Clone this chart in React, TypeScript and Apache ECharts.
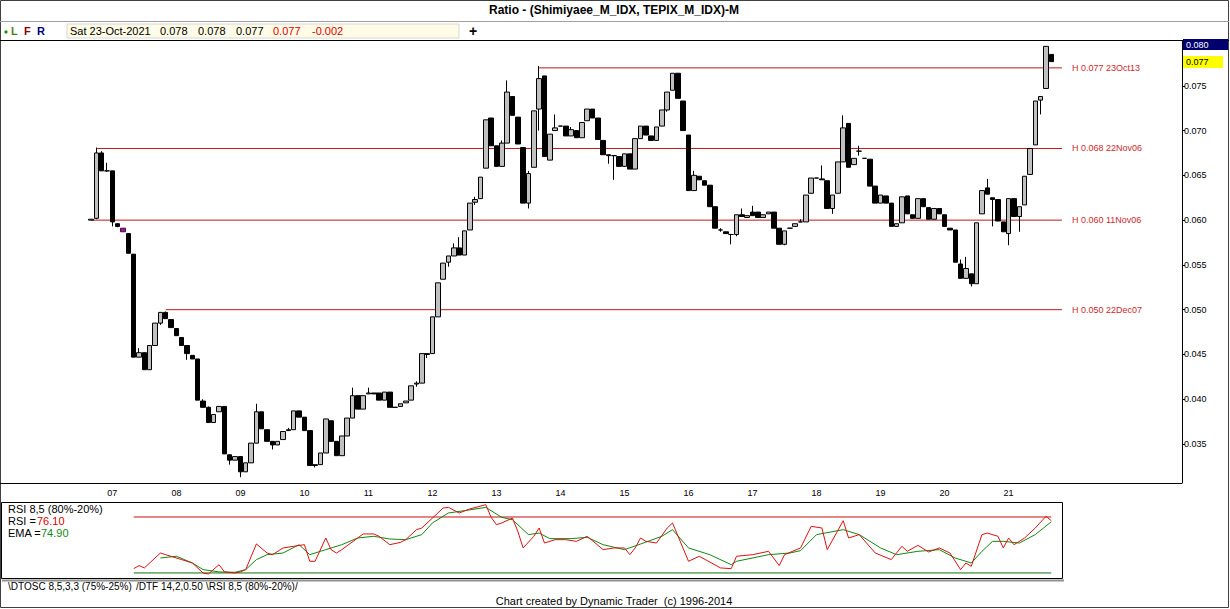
import React, { useEffect, useRef } from "react";
import * as echarts from "echarts";

// ---- price data (monthly candles, ratio) ----
const opens = [
  0.0600, 0.0602, 0.0675, 0.0655, 0.0655, 0.0596, 0.0591, 0.0585, 0.0562, 0.0447,
  0.0452, 0.0433, 0.0460, 0.0485, 0.0497, 0.0489, 0.0479, 0.0469, 0.0460, 0.0449,
  0.0445, 0.0398, 0.0391, 0.0374, 0.0386, 0.0392, 0.0338, 0.0332, 0.0336, 0.0319,
  0.0329, 0.0351, 0.0386, 0.0366, 0.0353, 0.0349, 0.0355, 0.0365, 0.0366, 0.0387,
  0.0380, 0.0365, 0.0326, 0.0327, 0.0340, 0.0376, 0.0353, 0.0337, 0.0359, 0.0379,
  0.0404, 0.0389, 0.0406, 0.0407, 0.0407, 0.0399, 0.0408, 0.0391, 0.0392, 0.0396,
  0.0399, 0.0417, 0.0418, 0.0450, 0.0451, 0.0492, 0.0534, 0.0553, 0.0560, 0.0569,
  0.0561, 0.0589, 0.0620, 0.0624, 0.0658, 0.0714, 0.0683, 0.0660, 0.0686, 0.0738,
  0.0715, 0.0681, 0.0619, 0.0659, 0.0724, 0.0761, 0.0667, 0.0700, 0.0705, 0.0705,
  0.0694, 0.0700, 0.0692, 0.0711, 0.0724, 0.0714, 0.0689, 0.0673, 0.0672, 0.0671,
  0.0660, 0.0674, 0.0657, 0.0691, 0.0705, 0.0694, 0.0689, 0.0705, 0.0723, 0.0745,
  0.0764, 0.0733, 0.0695, 0.0633, 0.0649, 0.0644, 0.0639, 0.0615, 0.0589, 0.0587,
  0.0584, 0.0584, 0.0606, 0.0603, 0.0609, 0.0609, 0.0603, 0.0607, 0.0609, 0.0591,
  0.0573, 0.0591, 0.0593, 0.0598, 0.0598, 0.0630, 0.0647, 0.0646, 0.0644, 0.0613,
  0.0630, 0.0665, 0.0708, 0.0662, 0.0677, 0.0669, 0.0668, 0.0638, 0.0619, 0.0627,
  0.0619, 0.0593, 0.0597, 0.0627, 0.0606, 0.0602, 0.0624, 0.0614, 0.0601, 0.0613,
  0.0606, 0.0591, 0.0589, 0.0551, 0.0535, 0.0540, 0.0529, 0.0607, 0.0636, 0.0625,
  0.0623, 0.0598, 0.0585, 0.0624, 0.0604, 0.0617, 0.0651, 0.0684, 0.0734, 0.0747,
  0.0785,
];
const closes = [
  0.0601, 0.0675, 0.0655, 0.0655, 0.0598, 0.0593, 0.0587, 0.0563, 0.0447, 0.0452,
  0.0433, 0.0460, 0.0485, 0.0497, 0.0490, 0.0480, 0.0471, 0.0460, 0.0451, 0.0445,
  0.0399, 0.0391, 0.0374, 0.0383, 0.0392, 0.0339, 0.0332, 0.0336, 0.0319, 0.0329,
  0.0351, 0.0386, 0.0367, 0.0353, 0.0349, 0.0353, 0.0364, 0.0366, 0.0387, 0.0380,
  0.0365, 0.0326, 0.0327, 0.0340, 0.0378, 0.0353, 0.0337, 0.0359, 0.0379, 0.0404,
  0.0389, 0.0404, 0.0407, 0.0406, 0.0399, 0.0408, 0.0391, 0.0391, 0.0395, 0.0398,
  0.0415, 0.0418, 0.0451, 0.0451, 0.0492, 0.0530, 0.0552, 0.0560, 0.0569, 0.0561,
  0.0588, 0.0619, 0.0623, 0.0648, 0.0712, 0.0683, 0.0660, 0.0686, 0.0743, 0.0717,
  0.0685, 0.0619, 0.0652, 0.0722, 0.0758, 0.0671, 0.0696, 0.0703, 0.0705, 0.0694,
  0.0701, 0.0692, 0.0709, 0.0724, 0.0714, 0.0690, 0.0673, 0.0672, 0.0672, 0.0660,
  0.0674, 0.0657, 0.0691, 0.0705, 0.0695, 0.0689, 0.0704, 0.0723, 0.0743, 0.0764,
  0.0736, 0.0700, 0.0633, 0.0650, 0.0645, 0.0639, 0.0615, 0.0591, 0.0589, 0.0585,
  0.0584, 0.0606, 0.0604, 0.0605, 0.0605, 0.0603, 0.0606, 0.0609, 0.0591, 0.0573,
  0.0588, 0.0591, 0.0596, 0.0598, 0.0628, 0.0647, 0.0647, 0.0645, 0.0613, 0.0628,
  0.0665, 0.0703, 0.0659, 0.0669, 0.0677, 0.0669, 0.0638, 0.0619, 0.0628, 0.0619,
  0.0593, 0.0596, 0.0626, 0.0607, 0.0602, 0.0624, 0.0615, 0.0601, 0.0613, 0.0607,
  0.0593, 0.0589, 0.0553, 0.0535, 0.0546, 0.0529, 0.0597, 0.0633, 0.0629, 0.0623,
  0.0599, 0.0587, 0.0624, 0.0604, 0.0615, 0.0649, 0.0680, 0.0733, 0.0738, 0.0794,
  0.0777,
];
const highs = [
  0.0601, 0.0681, 0.0677, 0.0664, 0.0655, 0.0596, 0.0591, 0.0585, 0.0562, 0.0457,
  0.0452, 0.0460, 0.0485, 0.0497, 0.0498, 0.0489, 0.0479, 0.0469, 0.0460, 0.0449,
  0.0445, 0.0400, 0.0392, 0.0383, 0.0392, 0.0392, 0.0338, 0.0336, 0.0336, 0.0329,
  0.0351, 0.0395, 0.0386, 0.0366, 0.0353, 0.0353, 0.0364, 0.0368, 0.0387, 0.0387,
  0.0380, 0.0365, 0.0327, 0.0340, 0.0378, 0.0376, 0.0353, 0.0359, 0.0379, 0.0413,
  0.0404, 0.0404, 0.0413, 0.0407, 0.0407, 0.0408, 0.0408, 0.0391, 0.0395, 0.0398,
  0.0415, 0.0420, 0.0451, 0.0451, 0.0492, 0.0530, 0.0552, 0.0560, 0.0574, 0.0581,
  0.0588, 0.0619, 0.0626, 0.0648, 0.0712, 0.0714, 0.0683, 0.0689, 0.0756, 0.0738,
  0.0715, 0.0681, 0.0655, 0.0722, 0.0772, 0.0761, 0.0696, 0.0718, 0.0705, 0.0705,
  0.0704, 0.0700, 0.0709, 0.0724, 0.0724, 0.0714, 0.0689, 0.0673, 0.0672, 0.0671,
  0.0674, 0.0674, 0.0691, 0.0705, 0.0705, 0.0694, 0.0704, 0.0723, 0.0743, 0.0764,
  0.0764, 0.0733, 0.0695, 0.0655, 0.0649, 0.0644, 0.0639, 0.0615, 0.0591, 0.0587,
  0.0584, 0.0606, 0.0613, 0.0605, 0.0616, 0.0609, 0.0606, 0.0609, 0.0609, 0.0591,
  0.0588, 0.0591, 0.0596, 0.0601, 0.0628, 0.0647, 0.0647, 0.0661, 0.0644, 0.0628,
  0.0665, 0.0717, 0.0708, 0.0669, 0.0683, 0.0669, 0.0668, 0.0638, 0.0628, 0.0627,
  0.0619, 0.0596, 0.0626, 0.0627, 0.0606, 0.0624, 0.0624, 0.0614, 0.0613, 0.0613,
  0.0606, 0.0591, 0.0589, 0.0556, 0.0559, 0.0540, 0.0597, 0.0633, 0.0646, 0.0625,
  0.0623, 0.0598, 0.0624, 0.0624, 0.0615, 0.0649, 0.0680, 0.0733, 0.0738, 0.0794,
  0.0785,
];
const lows = [
  0.0600, 0.0601, 0.0655, 0.0654, 0.0593, 0.0592, 0.0587, 0.0563, 0.0447, 0.0447,
  0.0433, 0.0433, 0.0460, 0.0483, 0.0490, 0.0480, 0.0471, 0.0460, 0.0444, 0.0445,
  0.0399, 0.0391, 0.0374, 0.0374, 0.0386, 0.0339, 0.0327, 0.0332, 0.0313, 0.0319,
  0.0329, 0.0351, 0.0367, 0.0353, 0.0344, 0.0349, 0.0355, 0.0365, 0.0366, 0.0380,
  0.0365, 0.0326, 0.0324, 0.0327, 0.0340, 0.0353, 0.0337, 0.0337, 0.0359, 0.0379,
  0.0389, 0.0389, 0.0406, 0.0406, 0.0399, 0.0399, 0.0391, 0.0391, 0.0392, 0.0396,
  0.0399, 0.0414, 0.0418, 0.0446, 0.0451, 0.0492, 0.0534, 0.0548, 0.0560, 0.0561,
  0.0561, 0.0589, 0.0617, 0.0624, 0.0658, 0.0683, 0.0660, 0.0660, 0.0686, 0.0717,
  0.0685, 0.0619, 0.0613, 0.0659, 0.0700, 0.0671, 0.0667, 0.0700, 0.0705, 0.0694,
  0.0694, 0.0692, 0.0692, 0.0711, 0.0714, 0.0690, 0.0673, 0.0663, 0.0645, 0.0660,
  0.0660, 0.0657, 0.0657, 0.0691, 0.0695, 0.0689, 0.0689, 0.0705, 0.0721, 0.0745,
  0.0736, 0.0700, 0.0633, 0.0633, 0.0645, 0.0639, 0.0615, 0.0591, 0.0587, 0.0585,
  0.0573, 0.0582, 0.0604, 0.0603, 0.0605, 0.0603, 0.0603, 0.0607, 0.0591, 0.0573,
  0.0572, 0.0591, 0.0593, 0.0598, 0.0598, 0.0630, 0.0647, 0.0645, 0.0613, 0.0607,
  0.0630, 0.0665, 0.0659, 0.0662, 0.0672, 0.0669, 0.0638, 0.0619, 0.0619, 0.0619,
  0.0593, 0.0593, 0.0597, 0.0607, 0.0602, 0.0602, 0.0615, 0.0601, 0.0601, 0.0607,
  0.0593, 0.0589, 0.0553, 0.0535, 0.0535, 0.0526, 0.0529, 0.0607, 0.0629, 0.0593,
  0.0599, 0.0587, 0.0572, 0.0604, 0.0587, 0.0617, 0.0651, 0.0684, 0.0718, 0.0747,
  0.0777,
];
const specialCandle = 6; // purple bar

// ---- horizontal "H" levels: [value, start bar, label] ----
const hLevels = [0.077, 0.068, 0.060, 0.050];
const hStarts = [84, 1, 0, 14];
const hLabels = ["H 0.077 23Oct13", "H 0.068 22Nov06", "H 0.060 11Nov06", "H 0.050 22Dec07"];

// ---- x axis year labels ----
const yearLabels = ["07", "08", "09", "10", "11", "12", "13", "14", "15", "16", "17", "18", "19", "20", "21"];
const firstYearBar = 4;

// ---- y axis ticks ----
const priceTicks = [0.035, 0.04, 0.045, 0.05, 0.055, 0.06, 0.065, 0.07, 0.075];

// ---- RSI 8,5 panel: [bar, value] ----
const rsiPoints = [
  [8, 24.6], [9, 27.9], [10, 25.4], [13, 41.4], [14, 39.6], [17, 34.3], [19, 30.7], [21, 20], [22, 18.9],
  [24, 28.9], [25, 21.1], [27, 20], [28, 21.1], [29, 23.6], [31, 51.1], [33, 41.4], [34, 39.6], [36, 46.8],
  [38, 48.6], [40, 50.3], [41, 32.5], [42, 32.5], [44, 57.5], [45, 45], [46, 41.4], [47, 45], [50, 57.5],
  [51, 61.8], [53, 61.8], [54, 59.3], [56, 50.3], [58, 52.8], [59, 55.7], [61, 66.4], [62, 68.2], [64, 78.9],
  [66, 89.6], [67, 90.3], [69, 84.3], [71, 88.6], [74, 93.2], [75, 79.6], [76, 71.8], [77, 73.6], [79, 78.9],
  [80, 64.6], [81, 46.8], [83, 59.3], [84, 68.2], [85, 52.1], [87, 55.7], [89, 55.7], [91, 53.9], [93, 59.3],
  [96, 45], [98, 46.8], [100, 46.8], [101, 39.6], [102, 46.8], [103, 57.5], [104, 53.9], [106, 52.1],
  [108, 68.2], [109, 73.6], [112, 32.5], [114, 37.9], [118, 25.4], [120, 24.6], [121, 37.9], [124, 39.6],
  [127, 43.2], [129, 27.9], [130, 39.6], [133, 46.8], [135, 70], [137, 68.2], [138, 45], [141, 76],
  [142, 57.5], [144, 61.1], [147, 41.4], [150, 34.3], [152, 48.6], [153, 43.2], [155, 49.6], [157, 42.5],
  [159, 46.8], [161, 41.4], [163, 23.6], [164, 30.7], [165, 27.1], [167, 61.1], [168, 62.8], [170, 59.3],
  [171, 46.8], [172, 57.5], [173, 50.3], [175, 57.5], [177, 68.2], [179, 80.7], [180, 76.1],
];
const emaPoints = [
  [13, 36], [16, 37.9], [19, 30.7], [21, 23.6], [24, 21.1], [27, 20.7], [29, 23.6], [31, 34.3], [33, 39.6],
  [36, 41.4], [39, 50.3], [41, 39.6], [44, 45], [47, 50.3], [50, 57.5], [53, 59.3], [56, 56.4], [59, 55.7],
  [62, 61.1], [64, 73.6], [67, 84.3], [70, 86.8], [74, 90.3], [77, 79.6], [79, 77.1], [82, 61.1], [84, 62.8],
  [86, 56.8], [90, 56.8], [93, 58.2], [96, 50.3], [100, 45], [103, 51], [107, 59.3], [109, 66.4],
  [112, 46.8], [116, 39.6], [120, 28.9], [121, 32.5], [127, 39.6], [131, 41.4], [133, 43.9], [136, 61.1],
  [141, 66.4], [144, 61.1], [148, 46.8], [151, 39.6], [155, 43.2], [159, 45], [162, 36], [165, 30.7],
  [167, 43.2], [169, 53.9], [171, 53.9], [174, 52.1], [177, 61.1], [180, 74.9],
];
const rsiUpper = 80;
const rsiLower = 20;
const rsiFirstBar = 8;

const PAD_LEFT = 16;
const PAD_RIGHT = 24;
const FONT = "Liberation Sans, Arial, sans-serif";

export default function App() {
  const ref = useRef<HTMLDivElement>(null);

  useEffect(() => {
    document.body.style.margin = "0";
    if (!ref.current) return;
    const chart = echarts.init(ref.current, undefined, { renderer: "svg" });
    const n = closes.length;
    const total = PAD_LEFT + n + PAD_RIGHT;
    const cats: string[] = [];
    for (let k = 0; k < total; k++) cats.push("b" + (k - PAD_LEFT));

    const candleData: any[] = [];
    for (let k = 0; k < total; k++) {
      const i = k - PAD_LEFT;
      if (i < 0 || i >= n) {
        candleData.push("-");
        continue;
      }
      const item: any = { value: [opens[i], closes[i], lows[i], highs[i]] };
      if (i === specialCandle) {
        item.itemStyle = { color: "#8e1f8e", color0: "#8e1f8e", borderColor: "#4a0a4a", borderColor0: "#4a0a4a" };
      }
      candleData.push(item);
    }

    const endBar = PAD_LEFT + 182;
    const hSeries = hLevels.map((v, j) => ({
      type: "line",
      xAxisIndex: 0,
      yAxisIndex: 0,
      data: [[PAD_LEFT + hStarts[j], v], [endBar, v]],
      symbol: "none",
      silent: true,
      lineStyle: { color: "#c01818", width: 1 },
      endLabel: {
        show: true,
        formatter: hLabels[j],
        color: "#d02828",
        fontSize: 9,
        fontFamily: FONT,
        distance: 10,
      },
      z: 1,
    }));

    const shift = (pts: number[][]) => pts.map((p) => [PAD_LEFT + p[0], p[1]]);

    const option: any = {
      animation: false,
      backgroundColor: "#ffffff",
      grid: [
        { left: 3, right: 48, top: 41, height: 442, show: false },
        { left: 3, right: 48, top: 503, height: 75, show: false },
      ],
      xAxis: [
        {
          type: "category",
          gridIndex: 0,
          data: cats,
          boundaryGap: true,
          axisLine: { show: false },
          axisTick: { show: false },
          splitLine: { show: false },
          axisLabel: {
            show: true,
            interval: 0,
            margin: 5,
            fontSize: 9,
            fontFamily: FONT,
            color: "#000",
            formatter: (_v: string, idx: number) => {
              const i = idx - PAD_LEFT - firstYearBar;
              if (i >= 0 && i % 12 === 0 && i / 12 < yearLabels.length) return yearLabels[i / 12];
              return "";
            },
          },
        },
        {
          type: "category",
          gridIndex: 1,
          data: cats,
          boundaryGap: true,
          show: false,
        },
      ],
      yAxis: [
        {
          type: "value",
          gridIndex: 0,
          position: "right",
          min: 0.03065,
          max: 0.08,
          scale: true,
          axisLine: { show: true, lineStyle: { color: "#000", width: 1 } },
          axisTick: { show: true, length: 3, lineStyle: { color: "#000" }, customValues: priceTicks },
          splitLine: { show: false },
          axisLabel: {
            show: true,
            customValues: priceTicks,
            formatter: (v: number) => v.toFixed(3),
            fontSize: 9,
            fontFamily: FONT,
            color: "#000",
            margin: 2,
          },
        },
        {
          type: "value",
          gridIndex: 1,
          min: 14.6,
          max: 95,
          show: false,
          splitLine: { show: false },
        },
      ],
      series: [
        ...hSeries,
        {
          type: "candlestick",
          xAxisIndex: 0,
          yAxisIndex: 0,
          data: candleData,
          barWidth: 5,
          silent: true,
          z: 3,
          itemStyle: {
            color: "#c0c0c0",
            color0: "#000000",
            borderColor: "#000000",
            borderColor0: "#000000",
            borderWidth: 1,
          },
        },
        {
          type: "line",
          xAxisIndex: 1,
          yAxisIndex: 1,
          data: [[PAD_LEFT + rsiFirstBar, rsiUpper], [PAD_LEFT + n - 1, rsiUpper]],
          symbol: "none",
          silent: true,
          lineStyle: { color: "#c81010", width: 1 },
        },
        {
          type: "line",
          xAxisIndex: 1,
          yAxisIndex: 1,
          data: [[PAD_LEFT + rsiFirstBar, rsiLower], [PAD_LEFT + n - 1, rsiLower]],
          symbol: "none",
          silent: true,
          lineStyle: { color: "#107010", width: 1 },
        },
        {
          type: "line",
          xAxisIndex: 1,
          yAxisIndex: 1,
          data: shift(emaPoints),
          symbol: "none",
          silent: true,
          lineStyle: { color: "#118811", width: 1 },
        },
        {
          type: "line",
          xAxisIndex: 1,
          yAxisIndex: 1,
          data: shift(rsiPoints),
          symbol: "none",
          silent: true,
          lineStyle: { color: "#dd1111", width: 1 },
        },
      ],
      graphic: [
        // outer frame
        { type: "rect", shape: { x: 0.5, y: 0.5, width: 1228, height: 607 }, style: { fill: "none", stroke: "#404040", lineWidth: 1 }, silent: true },
        { type: "line", shape: { x1: 0, y1: 21.5, x2: 1229, y2: 21.5 }, style: { stroke: "#a0a0a0", lineWidth: 1 }, silent: true },
        { type: "line", shape: { x1: 0, y1: 40.5, x2: 1229, y2: 40.5 }, style: { stroke: "#000", lineWidth: 1 }, silent: true },
        { type: "line", shape: { x1: 0, y1: 483.5, x2: 1182, y2: 483.5 }, style: { stroke: "#000", lineWidth: 1 }, silent: true },
        // RSI panel box
        { type: "rect", shape: { x: 1.5, y: 502.5, width: 1061, height: 76 }, style: { fill: "none", stroke: "#000", lineWidth: 1 }, silent: true },
        { type: "line", shape: { x1: 2, y1: 580.5, x2: 1064, y2: 580.5 }, style: { stroke: "#909090", lineWidth: 2 }, silent: true },
        // title
        {
          type: "text", x: 614, y: 10,
          style: { text: "Ratio - (Shimiyaee_M_IDX, TEPIX_M_IDX)-M", fill: "#000", font: `bold 12px ${FONT}`, textAlign: "center", textVerticalAlign: "middle" },
        },
        // toolbar
        { type: "circle", shape: { cx: 6, cy: 32, r: 1.6 }, style: { fill: "#109010" }, silent: true },
        { type: "text", x: 11, y: 31, style: { text: "L", fill: "#5a7d10", font: `bold 11px ${FONT}`, textVerticalAlign: "middle" } },
        { type: "text", x: 24, y: 31, style: { text: "F", fill: "#8b0000", font: `bold 11px ${FONT}`, textVerticalAlign: "middle" } },
        { type: "text", x: 37, y: 31, style: { text: "R", fill: "#000080", font: `bold 11px ${FONT}`, textVerticalAlign: "middle" } },
        { type: "rect", shape: { x: 67, y: 24, width: 392, height: 14 }, style: { fill: "#fffbe6", stroke: "#d8d8d8", lineWidth: 1 }, silent: true },
        { type: "text", x: 70, y: 31, style: { text: "Sat 23-Oct-2021", fill: "#000", font: `11px ${FONT}`, textVerticalAlign: "middle" } },
        { type: "text", x: 160, y: 31, style: { text: "0.078", fill: "#000", font: `11px ${FONT}`, textVerticalAlign: "middle" } },
        { type: "text", x: 198, y: 31, style: { text: "0.078", fill: "#000", font: `11px ${FONT}`, textVerticalAlign: "middle" } },
        { type: "text", x: 236, y: 31, style: { text: "0.077", fill: "#000", font: `11px ${FONT}`, textVerticalAlign: "middle" } },
        { type: "text", x: 273, y: 31, style: { text: "0.077", fill: "#dd0000", font: `11px ${FONT}`, textVerticalAlign: "middle" } },
        { type: "text", x: 312, y: 31, style: { text: "-0.002", fill: "#dd0000", font: `11px ${FONT}`, textVerticalAlign: "middle" } },
        { type: "text", x: 469, y: 31, style: { text: "+", fill: "#000", font: `bold 14px ${FONT}`, textVerticalAlign: "middle" } },
        // right-side price boxes
        { type: "rect", shape: { x: 1183, y: 39, width: 45, height: 11 }, style: { fill: "#00006e" }, silent: true },
        { type: "text", x: 1186, y: 45, style: { text: "0.080", fill: "#ffffff", font: `9px ${FONT}`, textVerticalAlign: "middle" } },
        { type: "rect", shape: { x: 1183, y: 56, width: 40, height: 12 }, style: { fill: "#ffff00" }, silent: true },
        { type: "text", x: 1186, y: 62, style: { text: "0.077", fill: "#000", font: `9px ${FONT}`, textVerticalAlign: "middle" } },
        // RSI labels
        { type: "text", x: 8, y: 509, style: { text: "RSI 8,5 (80%-20%)", fill: "#000", font: `11px ${FONT}`, textVerticalAlign: "middle" } },
        { type: "text", x: 8, y: 521, style: { text: "RSI =", fill: "#000", font: `11px ${FONT}`, textVerticalAlign: "middle" } },
        { type: "text", x: 37, y: 521, style: { text: "76.10", fill: "#dd0000", font: `11px ${FONT}`, textVerticalAlign: "middle" } },
        { type: "text", x: 8, y: 533, style: { text: "EMA =", fill: "#000", font: `11px ${FONT}`, textVerticalAlign: "middle" } },
        { type: "text", x: 41, y: 533, style: { text: "74.90", fill: "#118811", font: `11px ${FONT}`, textVerticalAlign: "middle" } },
        // tabs
        { type: "text", x: 8, y: 586, style: { text: "\\DTOSC 8,5,3,3 (75%-25%)", fill: "#000", font: `10px ${FONT}`, textVerticalAlign: "middle" } },
        { type: "text", x: 136, y: 586, style: { text: "/DTF 14,2,0.50", fill: "#000", font: `10px ${FONT}`, textVerticalAlign: "middle" } },
        { type: "text", x: 206, y: 586, style: { text: "\\RSI 8,5 (80%-20%)/", fill: "#000", font: `10px ${FONT}`, textVerticalAlign: "middle" } },
        // footer
        {
          type: "text", x: 614, y: 601,
          style: { text: "Chart created by Dynamic Trader  (c) 1996-2014", fill: "#000", font: `11px ${FONT}`, textAlign: "center", textVerticalAlign: "middle" },
        },
      ],
    };
    chart.setOption(option);
    return () => chart.dispose();
  }, []);

  return <div ref={ref} style={{ width: 1230, height: 609 }} />;
}
